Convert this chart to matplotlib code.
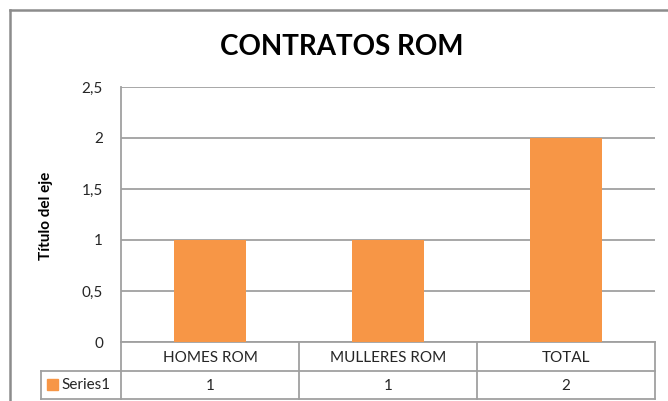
import matplotlib
matplotlib.use("Agg")
import matplotlib.pyplot as plt
from matplotlib.lines import Line2D
from matplotlib.patches import Rectangle

categories = ["HOMES ROM", "MULLERES ROM", "TOTAL"]
values = [1, 1, 2]
series_name = "Series1"
yticks = [0, 0.5, 1, 1.5, 2, 2.5]
ytick_labels = ["0", "0,5", "1", "1,5", "2", "2,5"]

W, H = 668, 401
bar_color = "#F79646"
grid_color = "#A0A0A0"
text_color = "#262626"

plt.rcParams["font.family"] = ["Lato", "DejaVu Sans"]

fig = plt.figure(figsize=(W / 100, H / 100), dpi=100)
fig.patch.set_facecolor("white")

# plot area in pixels
left, right, top, bottom = 121, 655, 87, 342
ax = fig.add_axes([left / W, 1 - bottom / H, (right - left) / W, (bottom - top) / H])

x = range(len(categories))
ax.bar(x, values, width=0.4, color=bar_color, zorder=3)
ax.set_xlim(-0.5, len(categories) - 0.5)
ax.set_ylim(0, 2.5)
ax.set_yticks(yticks)
ax.set_yticklabels(ytick_labels, fontsize=11, color=text_color)
ax.set_xticks([])
ax.tick_params(axis="y", length=0, pad=13)
ax.yaxis.grid(True, color=grid_color, linewidth=1.3, zorder=0)
for s in ["top", "right", "bottom"]:
    ax.spines[s].set_visible(False)
ax.spines["left"].set_color(grid_color)
ax.spines["left"].set_linewidth(1.3)

fig.text(46 / W, 1 - 216 / H, "Título del eje", rotation=90, ha="center", va="center",
         fontsize=11, fontweight="bold", color="black")

fig.text(342 / W, 1 - 47 / H, "CONTRATOS ROM", ha="center", va="center",
         fontsize=20, fontweight="bold", color="black")

# data table below the plot
row1_bot, row2_bot, table_left = 371, 399, 41
trans = ax.get_xaxis_transform()


def fy(py):
    return (bottom - py) / (bottom - top)


lw = 1.3
for py in [bottom, row1_bot, row2_bot]:
    ax.add_line(Line2D([-0.5, len(categories) - 0.5], [fy(py), fy(py)],
                       transform=trans, color=grid_color, lw=lw, clip_on=False))
# series row extends to the left of the plot area
for py in [row1_bot, row2_bot]:
    fig.add_artist(Line2D([table_left / W, left / W], [1 - py / H, 1 - py / H],
                          color=grid_color, lw=lw))
fig.add_artist(Line2D([table_left / W, table_left / W], [1 - row1_bot / H, 1 - row2_bot / H],
                      color=grid_color, lw=lw))
for i in range(len(categories) + 1):
    ax.add_line(Line2D([i - 0.5, i - 0.5], [fy(bottom), fy(row2_bot)], transform=trans,
                       color=grid_color, lw=lw, clip_on=False))

for i, (cat, val) in enumerate(zip(categories, values)):
    ax.text(i, fy((bottom + row1_bot) / 2 + 1), cat, transform=trans, ha="center", va="center",
            fontsize=11, color=text_color)
    ax.text(i, fy((row1_bot + row2_bot) / 2 + 1), str(val), transform=trans, ha="center",
            va="center", fontsize=11, color=text_color)

# legend key + series name
fig.add_artist(Rectangle((47 / W, 1 - 390 / H), 11 / W, 11 / H, color=bar_color))
fig.text(61 / W, 1 - 385 / H, series_name, ha="left", va="center", fontsize=11, color=text_color)

# outer chart border (cropped on right and bottom)
fig.add_artist(Line2D([10 / W, 10 / W], [0, 1 - 10 / H], color="#8C8C8C", lw=1.8))
fig.add_artist(Line2D([10 / W, 1], [1 - 10 / H, 1 - 10 / H], color="#8C8C8C", lw=1.8))

fig.savefig("out.png", dpi=100)
